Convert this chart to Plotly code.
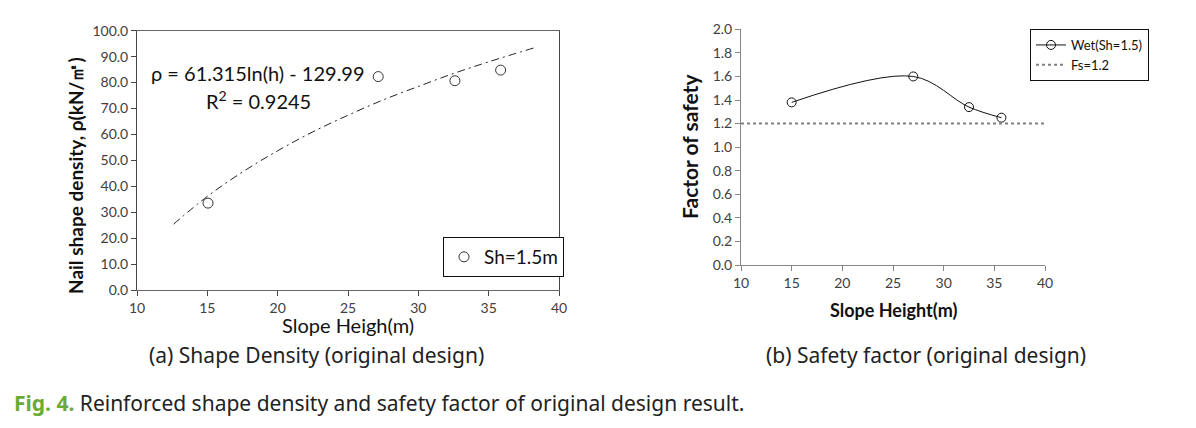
import plotly.graph_objects as go

# ---- data ----
h_a = [15.05, 27.15, 32.6, 35.85]          # slope height (m), panel (a)
rho_a = [33.5, 82.3, 80.7, 84.8]           # nail shape density
trend_h = [12.6, 15, 17.5, 20, 22.5, 25, 27.5, 30, 32.5, 35, 38.3]
trend_rho = [25.4, 36.1, 45.5, 53.7, 61.0, 67.4, 73.3, 78.5, 83.5, 88.0, 93.5]

h_b = [15, 27, 32.5, 35.7]                 # slope height (m), panel (b)
fs_b = [1.38, 1.60, 1.34, 1.25]            # factor of safety
fs_line_x = [10, 40]
fs_line_y = [1.2, 1.2]

xticks = [10, 15, 20, 25, 30, 35, 40]
yticks_a = [0, 10, 20, 30, 40, 50, 60, 70, 80, 90, 100]
yticks_b = [0, 0.2, 0.4, 0.6, 0.8, 1.0, 1.2, 1.4, 1.6, 1.8, 2.0]

W, H = 1196, 428
OFF = 8  # page body margin
def px(x): return (x - OFF) / W
def py(y): return 1 - (y - OFF) / H

tickfont = dict(family="Lato, Liberation Sans, sans-serif", size=14, color="#404040")

fig = go.Figure()

# panel (a)
fig.add_trace(go.Scatter(x=trend_h, y=trend_rho, mode="lines", line=dict(color="#222", width=1, dash="8px,4px,2px,4px", shape="spline"),
                         showlegend=False, xaxis="x", yaxis="y", hoverinfo="skip"))
fig.add_trace(go.Scatter(x=h_a, y=rho_a, mode="markers", name="Sh=1.5m",
                         marker=dict(symbol="circle-open", size=10, color="#333", line=dict(width=1)),
                         xaxis="x", yaxis="y", legend="legend"))

# panel (b)
fig.add_trace(go.Scatter(x=h_b, y=fs_b, mode="lines+markers", name="Wet(Sh=1.5)",
                         line=dict(color="#111", width=1, shape="spline"),
                         marker=dict(symbol="circle-open", size=9, color="#111", line=dict(width=1)),
                         xaxis="x2", yaxis="y2", legend="legend2"))
fig.add_trace(go.Scatter(x=fs_line_x, y=fs_line_y, mode="lines", name="Fs=1.2",
                         line=dict(color="#808080", width=2, dash="dot"),
                         xaxis="x2", yaxis="y2", legend="legend2"))

fig.update_layout(
    width=W, height=H, margin=dict(l=0, r=0, t=0, b=0),
    paper_bgcolor="white", plot_bgcolor="white",
    xaxis=dict(domain=[px(137), px(559)], range=[10, 40], tickvals=xticks, ticks="outside", ticklen=5,
               showline=True, linecolor="#666", mirror=True, showgrid=False, zeroline=False,
               tickfont=tickfont, anchor="y", automargin=False),
    yaxis=dict(domain=[py(290), py(30.7)], range=[0, 100], tickvals=yticks_a,
               ticktext=[f"{v:.1f}" for v in yticks_a], ticks="outside", ticklen=5,
               showline=True, linecolor="#444", mirror=True, showgrid=False, zeroline=False,
               tickfont=tickfont, anchor="x", automargin=False),
    xaxis2=dict(domain=[px(741), px(1045)], range=[10, 40], tickvals=xticks, ticks="outside", ticklen=5,
                tickcolor="#868686", showline=True, linecolor="#868686", showgrid=False, zeroline=False,
                tickfont=tickfont, anchor="y2", automargin=False),
    yaxis2=dict(domain=[py(265), py(29.3)], range=[0, 2], tickvals=yticks_b,
                ticktext=[f"{v:.1f}" for v in yticks_b], ticks="outside", ticklen=5,
                tickcolor="#868686", showline=True, linecolor="#868686", showgrid=False, zeroline=False,
                tickfont=tickfont, anchor="x2", automargin=False),
    legend=dict(x=px(443), y=py(237), xanchor="left", yanchor="top", bordercolor="#111", borderwidth=1,
                bgcolor="white", font=dict(family="Lato, Liberation Sans, sans-serif", size=19, color="#111"),
                itemwidth=30, tracegroupgap=0),
    legend2=dict(x=px(1030), y=py(29), xanchor="left", yanchor="top", bordercolor="#111", borderwidth=1,
                 bgcolor="white", font=dict(family="Lato, Liberation Sans, sans-serif", size=13, color="#111"),
                 itemwidth=30, tracegroupgap=0),
)

ann = []
def A(x, y, text, size, bold=False, angle=0, color="#111", family="Lato, Liberation Sans, sans-serif", xanchor="center"):
    t = f"<b>{text}</b>" if bold else text
    ann.append(dict(x=px(x), y=py(y), xref="paper", yref="paper", text=t, showarrow=False, textangle=angle,
                    font=dict(family=family, size=size, color=color), xanchor=xanchor, yanchor="middle"))

A(75, 176, "Nail shape density, ρ(kN/㎡)", 19, bold=True, angle=-90)
A(348, 325, "Slope Heigh(m)", 20)
A(258, 73, "ρ = 61.315ln(h) - 129.99", 20)
A(258, 100, "R<sup>2</sup> = 0.9245", 20)
A(689, 147, "Factor of safety", 21, bold=True, angle=-90)
A(893, 310, "Slope Height(m)", 18, bold=True)

cap_font = "Noto Sans, Open Sans, sans-serif"
A(316, 355, "(a) Shape Density (original design)", 21, color="#222", family=cap_font)
A(926, 355, "(b) Safety factor (original design)", 21, color="#222", family=cap_font)
A(12, 403, "<b><span style='color:#6aab35'>Fig. 4.</span></b> Reinforced shape density and safety factor of original design result.",
  21, color="#222", family=cap_font, xanchor="left")

fig.update_layout(annotations=ann)
fig.write_html("out.html")
